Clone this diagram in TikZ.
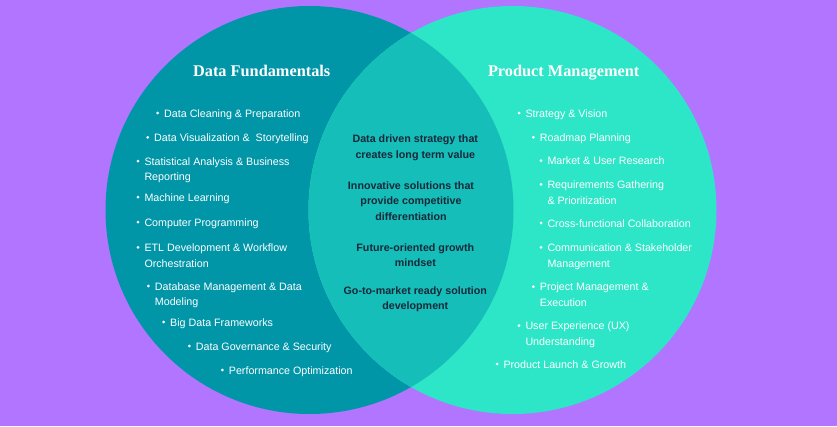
\documentclass[tikz,border=0pt]{standalone}
\usepackage{fontspec}
\setmainfont{Liberation Sans}
\newfontfamily\titlefont{Liberation Serif}
\usetikzlibrary{calc}
\definecolor{bgc}{HTML}{B175FF}
\definecolor{leftc}{HTML}{0096A8}
\definecolor{rightc}{HTML}{2DE6C8}
\definecolor{midc}{HTML}{15BEB8}
\definecolor{darktxt}{HTML}{17283A}
\tikzset{
  item/.style={anchor=north west, inner sep=0pt, align=left, text=white,
    font=\fontsize{10.7}{15.7}\selectfont},
  core/.style={anchor=north, inner sep=0pt, align=center, text=darktxt,
    font=\bfseries\fontsize{10.7}{15.7}\selectfont},
  ttl/.style={anchor=base, inner sep=0pt, text=white,
    font=\titlefont\bfseries\fontsize{16.3}{18}\selectfont},
  dotc/.style={fill=white}
}
\newcommand{\itm}[4]{\node[item] (#1) at (#2,#3-4.2) {\rule{0pt}{8pt}#4};
  \fill[dotc] ($(#1.north west)+(-6.3,4.2)$) circle (1.5pt);}
\begin{document}
\begin{tikzpicture}[x=1pt,y=-1pt]
\fill[bgc] (0,0) rectangle (837,426);
\useasboundingbox (0,0) rectangle (837,426);
\coordinate (cl) at (309.5,210);
\coordinate (cr) at (512.5,210);
\fill[leftc] (cl) circle (204pt);
\fill[rightc] (cr) circle (204pt);
\begin{scope}
  \clip (cl) circle (204pt);
  \fill[midc] (cr) circle (204pt);
\end{scope}
% titles
\node[ttl] (tl) at (261.7,76) {Data Fundamentals};
\node[ttl] (tr) at (563.7,76) {Product Management};
% left list
\itm{l1}{164}{113}{Data Cleaning \& Preparation}
\itm{l2}{154}{137.3}{Data Visualization \& \ Storytelling}
\itm{l3}{144.3}{161}{Statistical Analysis \& Business\\Reporting}
\itm{l4}{144.3}{197}{Machine Learning}
\itm{l5}{144.3}{222}{Computer Programming}
\itm{l6}{144.3}{247.3}{ETL Development \& Workflow\\Orchestration}
\itm{l7}{154.7}{286}{Database Management \& Data\\Modeling}
\itm{l8}{170}{322}{Big Data Frameworks}
\itm{l9}{195.7}{346}{Data Governance \& Security}
\itm{l10}{228.7}{370}{Performance Optimization}
% right list
\itm{r1}{525.3}{113}{Strategy \& Vision}
\itm{r2}{539.7}{137.3}{Roadmap Planning}
\itm{r3}{547.3}{160.7}{Market \& User Research}
\itm{r4}{547.3}{184.3}{Requirements Gathering\\\& Prioritization}
\itm{r5}{547.3}{223}{Cross-functional Collaboration}
\itm{r6}{547.3}{247.3}{Communication \& Stakeholder\\Management}
\itm{r7}{539.7}{286.7}{Project Management \&\\Execution}
\itm{r8}{525.3}{325.7}{User Experience (UX)\\Understanding}
\itm{r9}{503.3}{364}{Product Launch \& Growth}
% centre
\node[core] (c1) at (415.3,134.1) {\rule{0pt}{8pt}Data driven strategy that\\creates long term value};
\node[core] (c2) at (411,180.8) {\rule{0pt}{8pt}Innovative solutions that\\provide competitive\\differentiation};
\node[core] (c3) at (415.3,242.8) {\rule{0pt}{8pt}Future-oriented growth\\mindset};
\node[core] (c4) at (415.3,285.8) {\rule{0pt}{8pt}Go-to-market ready solution\\development};
\end{tikzpicture}
\end{document}
